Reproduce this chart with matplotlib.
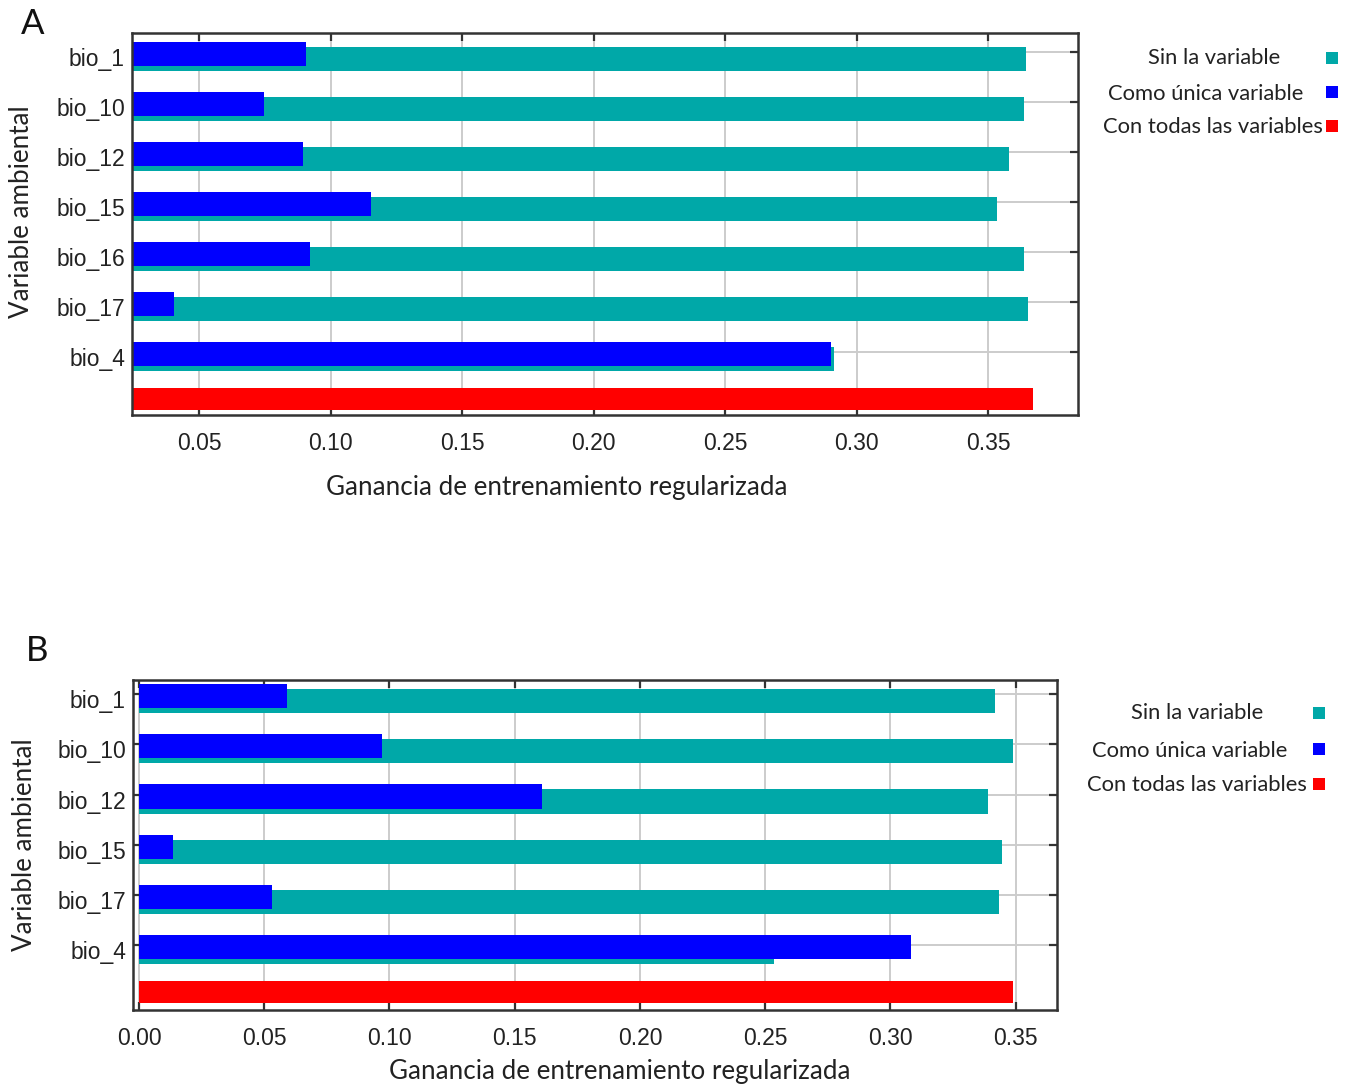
import matplotlib
matplotlib.use('Agg')
import matplotlib.pyplot as plt
from matplotlib.patches import Rectangle

# ---------------- data ----------------
vars_a = ['bio_1', 'bio_10', 'bio_12', 'bio_15', 'bio_16', 'bio_17', 'bio_4']
sin_a = [0.3644, 0.3637, 0.3580, 0.3534, 0.3637, 0.3652, 0.2914]
unica_a = [0.0907, 0.0747, 0.0895, 0.1154, 0.0922, 0.0405, 0.2903]
todas_a = 0.3671

vars_b = ['bio_1', 'bio_10', 'bio_12', 'bio_15', 'bio_17', 'bio_4']
sin_b = [0.3417, 0.3489, 0.3390, 0.3445, 0.3432, 0.2535]
unica_b = [0.0589, 0.0969, 0.1608, 0.0136, 0.0531, 0.3081]
todas_b = 0.3490

xticks_a = [0.05, 0.10, 0.15, 0.20, 0.25, 0.30, 0.35]
xticks_b = [0.00, 0.05, 0.10, 0.15, 0.20, 0.25, 0.30, 0.35]

legend_labels = ['Sin la variable', 'Como única variable', 'Con todas las variables']
xlabel = 'Ganancia de entrenamiento regularizada'
ylabel = 'Variable ambiental'

# ---------------- style ----------------
TEAL = '#00A8A8'
BLUE = '#0000FF'
RED = '#FF0000'
GRID = '#cccccc'
W, H = 1345, 1088
LABEL_FONT = ['Lato', 'DejaVu Sans']
TICK_FONT = ['Liberation Sans', 'DejaVu Sans']
TXT = '#222222'

fig = plt.figure(figsize=(W / 100, H / 100), dpi=100)


def fx(x):
    return x / W


def fy(y):
    return 1 - y / H


def panel(rect_px, names, sin, unica, todas, xlim, ylim, xticks):
    l, t, r, b = rect_px
    ax = fig.add_axes([fx(l), fy(b), fx(r) - fx(l), (b - t) / H])
    n = len(names)
    pos = list(range(n))
    ax.barh([p - 0.10 for p in pos], sin, height=0.48, align='edge',
            color=TEAL, zorder=2)
    ax.barh([p - 0.20 for p in pos], unica, height=0.48, align='edge',
            color=BLUE, zorder=3)
    ax.barh([n - 0.28], [todas], height=0.44, align='edge', color=RED, zorder=3)
    ax.set_xlim(*xlim)
    ax.set_ylim(*ylim)
    ax.set_xticks(xticks)
    ax.set_xticklabels([f'{v:.2f}' for v in xticks], fontsize=16.5,
                       family=TICK_FONT, color=TXT)
    # major ticks (marks + grid) at the category rows, labels slightly lower
    ax.set_yticks(pos)
    ax.set_yticklabels([])
    ax.set_yticks([p + 0.10 for p in pos], minor=True)
    ax.set_yticklabels(names, minor=True, fontsize=16.5, family=TICK_FONT,
                       color=TXT)
    ax.tick_params(axis='y', which='minor', length=0, pad=5)
    ax.tick_params(axis='both', which='major', direction='in', length=6,
                   width=1.6, color='#333333', top=True, right=True)
    ax.tick_params(axis='x', pad=12)
    ax.grid(True, which='major', color=GRID, linewidth=1.4, zorder=0)
    ax.set_axisbelow(True)
    for s in ax.spines.values():
        s.set_linewidth(1.8)
        s.set_color('#333333')
        s.set_zorder(5)
    return ax


axA = panel((132, 33, 1078, 415), vars_a, sin_a, unica_a, todas_a,
            (0.0245, 0.3842), (7.26, -0.38), xticks_a)
axB = panel((133, 680, 1057, 1010), vars_b, sin_b, unica_b, todas_b,
            (-0.0024, 0.3665), (6.29, -0.28), xticks_b)

# axis titles
fig.text(fx(557), fy(487), xlabel, ha='center', va='center', fontsize=18.7,
         family=LABEL_FONT, color=TXT)
fig.text(fx(620), fy(1072), xlabel, ha='center', va='center', fontsize=18.7,
         family=LABEL_FONT, color=TXT)
fig.text(fx(22), fy(212), ylabel, ha='center', va='center', rotation=90,
         fontsize=18.7, family=LABEL_FONT, color=TXT)
fig.text(fx(25), fy(845), ylabel, ha='center', va='center', rotation=90,
         fontsize=18.7, family=LABEL_FONT, color=TXT)

# panel letters
fig.text(fx(33), fy(24), 'A', ha='center', va='center', fontsize=25,
         family=LABEL_FONT, color='#111111')
fig.text(fx(37), fy(651), 'B', ha='center', va='center', fontsize=25,
         family=LABEL_FONT, color='#111111')

# legends
colors = [TEAL, BLUE, RED]
leg_a_text = [(1214, 58), (1206, 94), (1213, 127)]
leg_a_sq = [(1332, 58), (1332, 92), (1332, 126)]
leg_b_text = [(1197, 713), (1190, 751), (1197, 785)]
leg_b_sq = [(1319, 713), (1319, 749), (1319, 784)]
SQ = 12
for texts, sqs in ((leg_a_text, leg_a_sq), (leg_b_text, leg_b_sq)):
    for lab, (tx, ty), (sx, sy), c in zip(legend_labels, texts, sqs, colors):
        fig.text(fx(tx), fy(ty), lab, ha='center', va='center', fontsize=15.8,
                 family=LABEL_FONT, color=TXT)
        fig.patches.append(Rectangle((fx(sx - SQ / 2), fy(sy + SQ / 2)),
                                     SQ / W, SQ / H, transform=fig.transFigure,
                                     facecolor=c, edgecolor='none'))

fig.savefig('out.png', dpi=100)
